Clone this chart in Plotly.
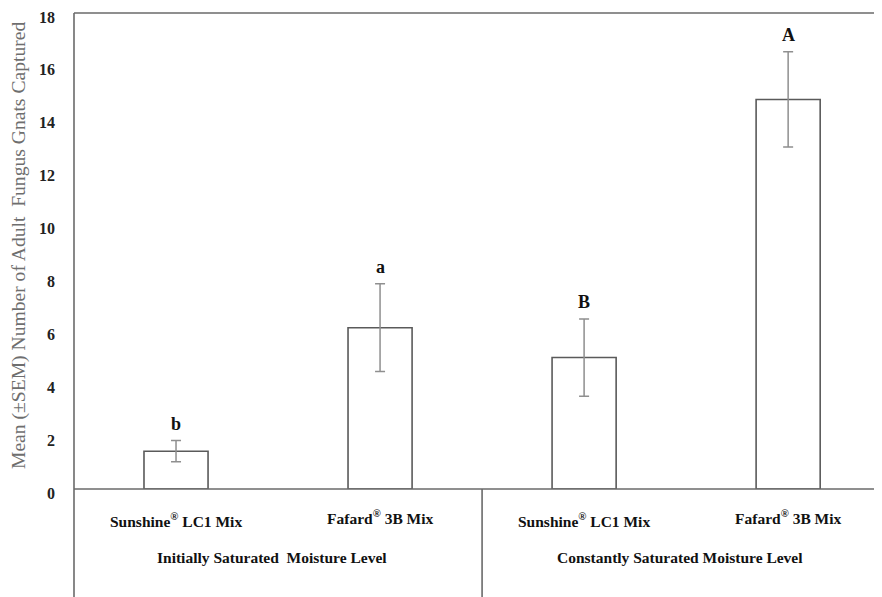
import plotly.graph_objects as go

categories = ["Sunshine<sup>®</sup> LC1 Mix", "Fafard<sup>®</sup> 3B Mix",
              "Sunshine<sup>®</sup> LC1 Mix", "Fafard<sup>®</sup> 3B Mix"]
groups = ["Initially Saturated  Moisture Level", "Constantly Saturated Moisture Level"]
means = [1.43, 6.10, 4.97, 14.73]
sem = [0.40, 1.66, 1.46, 1.80]
letters = ["b", "a", "B", "A"]
yticks = [0, 2, 4, 6, 8, 10, 12, 14, 16, 18]

xpos = list(range(len(means)))
SERIF = "Liberation Serif, Times New Roman, serif"

fig = go.Figure()
fig.add_trace(go.Bar(
    x=xpos, y=means, width=0.314,
    marker=dict(color="white", line=dict(color="#5a5a5a", width=1.6)),
    error_y=dict(type="data", array=sem, visible=True, color="#8f8f8f",
                 thickness=1.5, width=5),
    showlegend=False,
))

annotations = []
for i, (m, s, L) in enumerate(zip(means, sem, letters)):
    annotations.append(dict(x=i, y=m + s, xref="x", yref="y", text=f"<b>{L}</b>",
                            showarrow=False, yanchor="middle", yshift=17,
                            font=dict(family=SERIF, size=18, color="#111")))
for i, c in enumerate(categories):
    annotations.append(dict(x=i, y=0, xref="x", yref="paper", text=f"<b>{c}</b>",
                            showarrow=False, yanchor="middle",
                            yshift=-31 if i % 2 == 0 else -28,
                            font=dict(family=SERIF, size=15.5, color="#111")))
for g, gname in enumerate(groups):
    annotations.append(dict(x=2 * g + 0.47, y=0, xref="x", yref="paper",
                            text=f"<b>{gname}</b>", showarrow=False, yanchor="middle",
                            yshift=-68, font=dict(family=SERIF, size=15.5, color="#111")))
annotations.append(dict(x=0, y=0.5, xref="paper", yref="paper",
                        text="Mean (±SEM) Number of Adult  Fungus Gnats Captured",
                        textangle=-90, showarrow=False, xanchor="center", yanchor="middle",
                        xshift=-55, yshift=5,
                        font=dict(family=SERIF, size=19.6, color="#6e6e6e")))

line = dict(color="#6a6a6a", width=1.6)
shapes = [
    dict(type="line", xref="paper", yref="paper", x0=0, x1=1, y0=1, y1=1, line=line),
    dict(type="line", xref="paper", yref="paper", x0=0, x1=0, y0=-0.23, y1=1, line=line),
    dict(type="line", xref="paper", yref="paper", x0=0, x1=1, y0=0, y1=0, line=line),
    dict(type="line", xref="x", yref="paper", x0=1.5, x1=1.5, y0=-0.23, y1=0, line=line),
]

# page body has an 8px margin; size the figure so the plot lands where the reference has it
fig.update_layout(
    width=874, height=589,
    margin=dict(l=66, r=0, t=4.5, b=108),
    paper_bgcolor="white", plot_bgcolor="white",
    xaxis=dict(range=[-0.5, 3.46], showticklabels=False, showgrid=False,
               zeroline=False, showline=False),
    yaxis=dict(range=[0, 18], tickvals=yticks, ticktext=[f"<b>{v}</b>" for v in yticks],
               showgrid=False, zeroline=False, showline=False, ticks="",
               ticklabelstandoff=18, ticklabelshift=4,
               tickfont=dict(family=SERIF, size=16, color="#222")),
    annotations=annotations, shapes=shapes,
)

fig.write_html("out.html")
